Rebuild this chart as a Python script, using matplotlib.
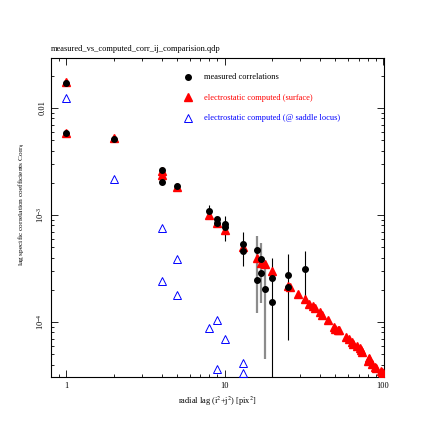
import numpy as np
import matplotlib
matplotlib.use("Agg")
import matplotlib.pyplot as plt
from matplotlib.ticker import FixedLocator, FixedFormatter, LogLocator, NullFormatter

plt.rcParams['font.family'] = ['Liberation Serif', 'DejaVu Serif']
plt.rcParams['mathtext.fontset'] = 'stix'

# measured correlations (black dots) with error bars
meas_lag = [1, 1, 2, 4, 4, 5, 8, 9, 9, 10, 10, 13, 13, 16, 16, 17, 17, 18, 20, 20, 25, 25, 32]
meas_val = [0.0172, 0.00588, 0.00509, 0.00263, 0.00205, 0.00187, 0.00110, 0.000918, 0.00085,
            0.000824, 0.00077, 0.000536, 0.000464, 0.00047, 0.000245, 0.000388, 0.000285,
            0.000205, 0.000256, 0.000153, 0.000277, 0.000211, 0.000315]
meas_lo = [0.0004, 0.00015, 0.00012, 0.00008, 0.00006, 0.00006, 0.0001, 0.00004, 0.00004,
           0.00005, 0.000195, 0.00004, 0.00013, 0.00004, 0.000123, 0.00003, 0.000133,
           0.00016, 0.00002, 0.00024, 0.00002, 0.000143, 0.000152]
meas_hi = [0.0004, 0.00015, 0.00012, 0.00008, 0.00006, 0.00006, 0.00014, 0.00004, 0.00004,
           0.00005, 0.00021, 0.00004, 0.000235, 0.00004, 0.000395, 0.00003, 0.000262,
           0.00016, 0.00002, 0.000241, 0.00002, 0.000218, 0.000145]

# electrostatic computed, surface (red filled triangles)
surf_lag = [1, 1, 2, 4, 4, 5, 8, 9, 10, 13, 16, 17, 18, 20, 25, 26, 29, 32, 34, 36, 37, 40,
            41, 45, 49, 50, 52, 53, 58, 61, 64, 65, 68, 72, 73, 74, 80, 81, 82, 85, 89, 90,
            97, 98, 100]
surf_val = [0.0175, 0.0058, 0.0052, 0.0026, 0.00237, 0.00183, 0.00100, 0.00084, 0.00072,
            0.00050, 0.000394, 0.00036, 0.00035, 0.000298, 0.000217, 0.000211, 0.000182,
            0.000164, 0.000147, 0.000141, 0.000134, 0.000123, 0.000116, 0.000104, 9.0e-5,
            8.7e-5, 8.5e-5, 8.4e-5, 7.3e-5, 6.9e-5, 6.55e-5, 6.3e-5, 5.97e-5, 5.68e-5,
            5.5e-5, 5.2e-5, 4.3e-5, 4.6e-5, 4.5e-5, 4.1e-5, 3.8e-5, 3.7e-5, 3.5e-5,
            3.45e-5, 3.36e-5]

# electrostatic computed, saddle locus (blue open triangles)
sad_lag = [1, 2, 4, 4, 5, 5, 8, 9, 9, 10, 13, 13]
sad_val = [0.01234, 0.00216, 0.00076, 0.000243, 0.000385, 0.000179, 8.85e-5, 0.000104,
           3.61e-5, 6.9e-5, 4.17e-5, 3.32e-5]

fig = plt.figure(figsize=(4.36, 4.36), dpi=100)
ax = fig.add_axes([0.117, 0.135, 0.764, 0.732])

eb = ax.errorbar(meas_lag, meas_val, yerr=[meas_lo, meas_hi], fmt='none', ecolor='k',
                 elinewidth=0.8, capsize=0, zorder=2)
barcols = ['0.55' if 15 < l < 19 else 'k' for l in meas_lag]
eb[2][0].set_color(barcols)
eb[2][0].set_linewidth([1.6 if 15 < l < 19 else 0.8 for l in meas_lag])

ax.plot(surf_lag, surf_val, '^', color='red', ms=5.3, mec='red',
        label='electrostatic computed (surface)', zorder=3)
ax.plot(meas_lag, meas_val, 'o', color='k', ms=4, label='measured correlations', zorder=4)
ax.plot(sad_lag, sad_val, '^', mfc='none', mec='blue', mew=0.7, ms=5.5,
        label='electrostatic computed (@ saddle locus)', zorder=3)

ax.set_xscale('log')
ax.set_yscale('log')
ax.set_xlim(0.8, 101.5)
ax.set_ylim(3.06e-5, 0.0293)

ax.xaxis.set_major_locator(FixedLocator([1, 10, 100]))
ax.xaxis.set_major_formatter(FixedFormatter(['1', '10', '100']))
ax.xaxis.set_minor_locator(LogLocator(base=10, subs=np.arange(2, 10)))
ax.xaxis.set_minor_formatter(NullFormatter())
ax.yaxis.set_major_locator(FixedLocator([1e-4, 1e-3, 1e-2]))
ax.yaxis.set_major_formatter(FixedFormatter([r'$\mathregular{10^{-4}}$',
                                             r'$\mathregular{10^{-3}}$', '0.01']))
ax.yaxis.set_minor_locator(LogLocator(base=10, subs=np.arange(2, 10)))
ax.yaxis.set_minor_formatter(NullFormatter())

ax.tick_params(which='both', direction='in', top=True, right=True, labelsize=6, width=0.6)
ax.tick_params(which='major', length=5)
ax.tick_params(which='minor', length=2.5)
for lab in ax.get_yticklabels():
    lab.set_rotation(90)
    lab.set_va('center')
for sp in ax.spines.values():
    sp.set_linewidth(0.8)

ax.set_xlabel(r'radial lag (i$^2$+j$^2$) [pix$^2$]', fontsize=6, labelpad=3)
ax.set_ylabel(r'lag specific correlation coefficients Corr$_{\mathregular{ij}}$', fontsize=5.3,
              labelpad=2)
ax.yaxis.set_label_coords(-0.068, 0.542)
ax.set_title('measured_vs_computed_corr_ij_comparision.qdp', loc='left', fontsize=6, pad=5)

h, l = ax.get_legend_handles_labels()
order = [1, 0, 2]
ax.legend([h[i] for i in order], [l[i] for i in order], loc='upper left',
          bbox_to_anchor=(0.37, 0.975), frameon=False, fontsize=6, labelcolor='linecolor',
          labelspacing=1.5, handletextpad=1.2, handlelength=1.5, numpoints=1)
leg = ax.get_legend()
leg.get_texts()[2].set_color('blue')
leg.get_texts()[1].set_color('red')

fig.savefig('out.png', dpi=100)
